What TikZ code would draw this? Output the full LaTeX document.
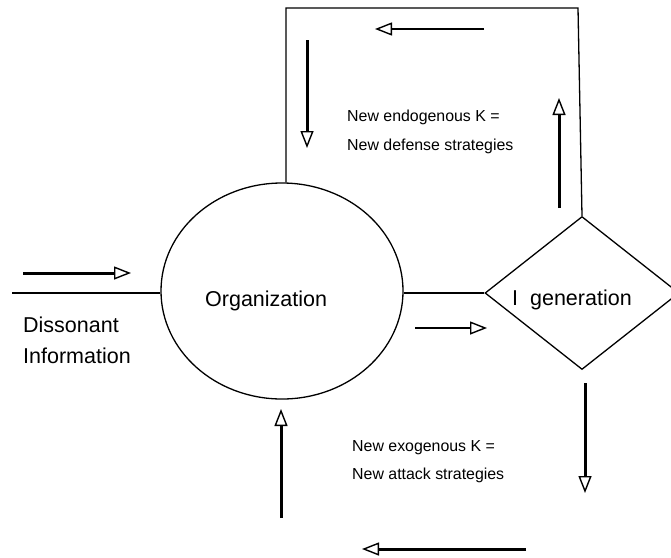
\documentclass[tikz,border=0pt]{standalone}
\usepackage{fontspec}
\setmainfont{Liberation Sans}
\usetikzlibrary{shapes.geometric,arrows.meta}
\begin{document}
\begin{tikzpicture}[x=1pt,y=-1pt,
  outline/.style={draw, line width=1.3pt},
  headtip/.style={-{Triangle[open,length=17pt,width=13pt,line width=1.4pt]}},
  thickarrow/.style={headtip, line width=3pt},
  thinarrow/.style={headtip, line width=1.7pt},
  bigtext/.style={font=\fontsize{21.5}{24}\selectfont, inner sep=0pt, anchor=base west},
  smalltext/.style={font=\fontsize{15.9}{18}\selectfont, inner sep=0pt, anchor=base west}]
\useasboundingbox (0,0) rectangle (671,557);
% main shapes
\node[outline, ellipse, minimum width=242pt, minimum height=216pt, inner sep=0pt] (org) at (282,291) {};
\node[outline, diamond, minimum width=194pt, minimum height=153pt, inner sep=0pt] (dia) at (582,293) {};
\coordinate (lin) at (12,293);
\coordinate (tl) at (286,8);
\coordinate (tr) at (578,8);
% connectors
\draw[line width=1.3pt] (lin) -- (lin -| org.west);
\draw[line width=1.3pt] (dia.west -| org.east) -- (dia.west);
\draw[line width=1.3pt] (tl |- org.north) -- (tl) -- (tr) -- (dia.north);
% texts
\node[bigtext] (t1) at (205,306) {Organization};
\node[bigtext] (t2) at (512,305) {I\ \ generation};
\node[bigtext] (t3) at (23,332) {Dissonant};
\node[bigtext] (t4) at (23,363) {Information};
\node[smalltext] (t5) at (347,121) {New endogenous K =};
\node[smalltext] (t6) at (347,150) {New defense strategies};
\node[smalltext] (t7) at (352,451) {New exogenous K =};
\node[smalltext] (t8) at (352,479) {New attack strategies};
% flow arrows
\coordinate (a1s) at (23,273);  \coordinate (a1e) at (131,273);
\coordinate (a2s) at (415,328); \coordinate (a2e) at (487,328);
\coordinate (a3s) at (484,29);  \coordinate (a3e) at (375,29);
\coordinate (a4s) at (307,40);  \coordinate (a4e) at (307,148);
\coordinate (a5s) at (559,208); \coordinate (a5e) at (559,98);
\coordinate (a6s) at (281,518); \coordinate (a6e) at (281,409);
\coordinate (a7s) at (585,383); \coordinate (a7e) at (585,493);
\coordinate (a8s) at (526,549); \coordinate (a8e) at (362,549);
\draw[thickarrow] (a1s) -- (a1e);
\draw[thinarrow] (a2s) -- (a2e);
\draw[thinarrow] (a3s) -- (a3e);
\draw[thickarrow] (a4s) -- (a4e);
\draw[thickarrow] (a5s) -- (a5e);
\draw[thickarrow] (a6s) -- (a6e);
\draw[thickarrow] (a7s) -- (a7e);
\draw[thickarrow] (a8s) -- (a8e);
\end{tikzpicture}
\end{document}
